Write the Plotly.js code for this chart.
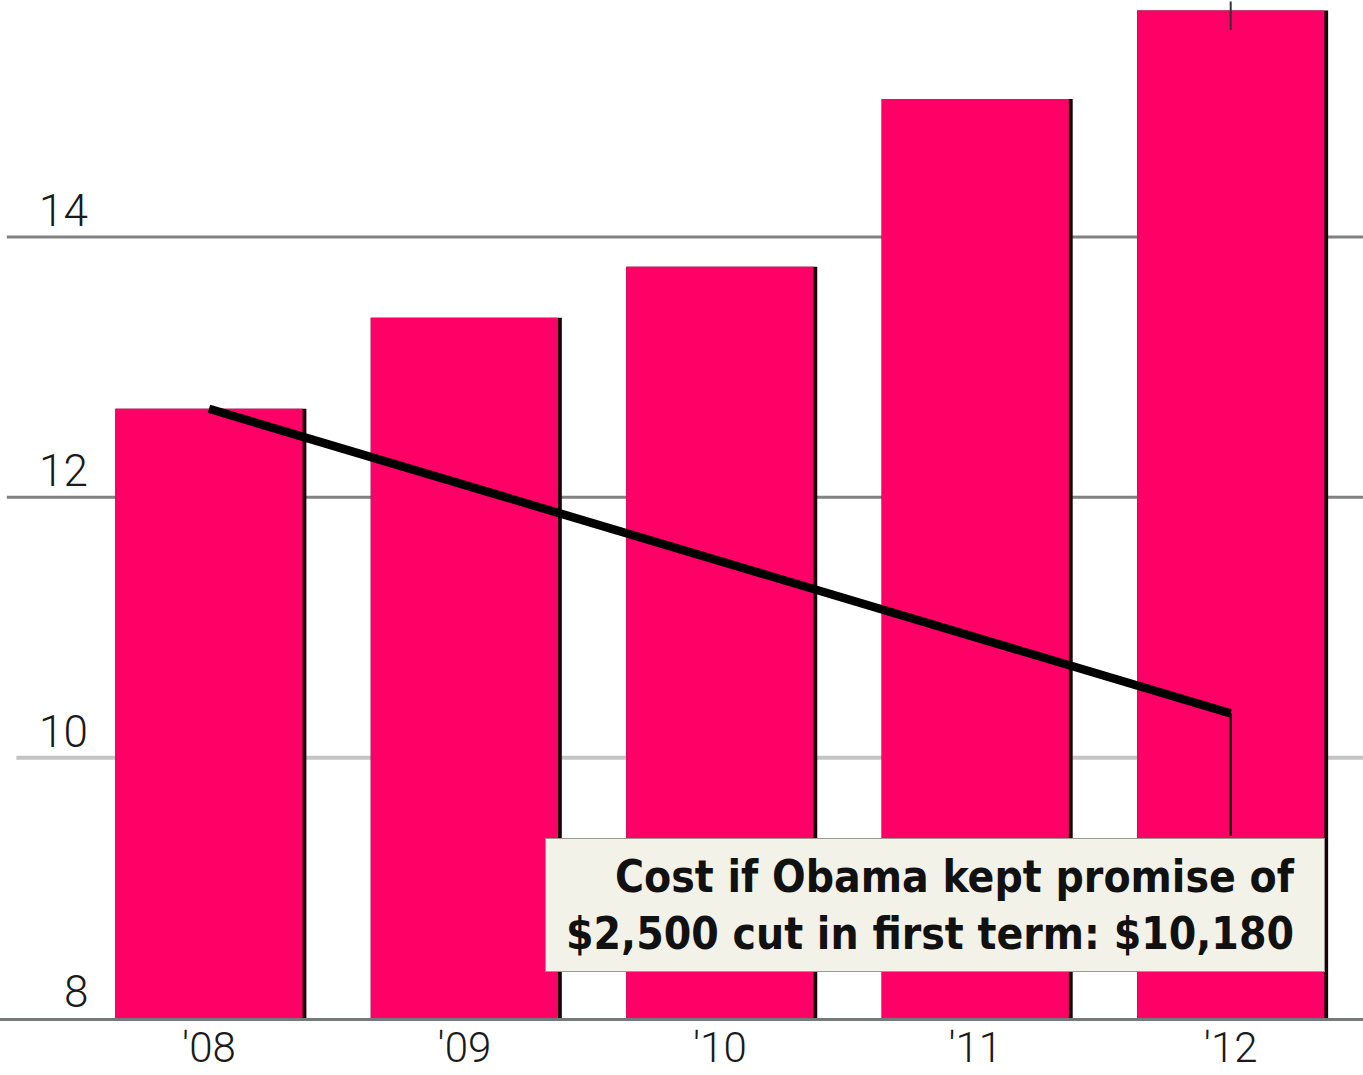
<!DOCTYPE html>
<html>
<head>
<meta charset="utf-8">
<script src="https://cdn.plot.ly/plotly-3.0.1.min.js"></script>
<style>html,body{margin:0;padding:0;background:#fff;}#chart{width:1363px;height:1075px;}</style>
</head>
<body>
<div id="chart"></div>
<script>
// ---- data ----
const years = ["'08", "'09", "'10", "'11", "'12"];
const costs = [12.68, 13.38, 13.77, 15.06, 15.74];          // thousand $
const promiseYears = ["'08", "'12"];
const promiseCosts = [12.68, 10.34];
const yTickVals = [8, 10, 12, 14];
const yTickText = ["8", "10", "12", "14"];
const gridVals = [10, 12, 14];
const noteText = "Cost if Obama kept promise of<br>$2,500 cut in first term: $10,180";

// ---- styles ----
const PINK = '#ff0066';
const barW = 0.733;
const edgeW = 0.748;

const traces = [
  { type: 'bar', x: years, y: costs, width: years.map(() => edgeW),
    offset: years.map(() => -barW / 2), marker: { color: '#1a0008' },
    hoverinfo: 'skip', showlegend: false },
  { type: 'bar', x: years, y: costs, width: years.map(() => barW),
    offset: years.map(() => -barW / 2), marker: { color: PINK },
    showlegend: false },
  { type: 'scatter', mode: 'lines', x: promiseYears, y: promiseCosts,
    line: { color: '#000', width: 8.5 }, showlegend: false }
];

const shapes = gridVals.map(v => ({
  type: 'line', xref: 'paper', yref: 'y', x0: v === 10 ? 0.012 : 0.005, x1: 1, y0: v, y1: v,
  layer: 'below',
  line: { color: v === 10 ? '#c4c4c4' : '#828282', width: v === 10 ? 4 : 3 }
}));

const tickFont = { family: 'Roboto, sans-serif', size: 44, color: '#1a1a1a', weight: 300 };
const xTickFont = { family: 'Roboto, sans-serif', size: 42, color: '#1a1a1a', weight: 300 };

const annotations = yTickVals.map((v, i) => ({
  xref: 'paper', yref: 'y', x: 90 / 1363, y: v, xanchor: 'right', yanchor: 'bottom',
  text: yTickText[i], showarrow: false, font: tickFont, yshift: -2
}));

// pointer from note box up to the promise line end
annotations.push({
  xref: 'x', yref: 'y', x: promiseYears[1], y: promiseCosts[1],
  axref: 'pixel', ayref: 'pixel', ax: 0, ay: 124, text: '',
  showarrow: true, arrowhead: 0, arrowwidth: 2.5, arrowcolor: '#111'
});
// small tick above the last bar
annotations.push({
  xref: 'x', yref: 'y', x: years[4], y: costs[4] - 0.15,
  axref: 'pixel', ayref: 'pixel', ax: 0, ay: -34, text: '',
  showarrow: true, arrowhead: 0, arrowwidth: 2, arrowcolor: '#333'
});
// note box
annotations.push({
  xref: 'paper', yref: 'paper', x: 545 / 1363, y: (1018 - 972) / 1018,
  xanchor: 'left', yanchor: 'bottom', text: ' ', showarrow: false,
  width: 778, height: 132, borderpad: 0,
  bgcolor: '#f3f2e9', bordercolor: '#9a9a90', borderwidth: 1
});
// note text
annotations.push({
  xref: 'paper', yref: 'paper', x: 1297 / 1363, y: (1018 - 905) / 1018,
  xanchor: 'right', yanchor: 'middle', align: 'right',
  text: noteText, showarrow: false,
  font: { family: '"DejaVu Sans Condensed", "DejaVu Sans", sans-serif', size: 44, color: '#111', weight: 700 }
});

const layout = {
  width: 1363, height: 1075,
  margin: { l: 0, r: 0, t: 0, b: 57 },
  paper_bgcolor: '#fff', plot_bgcolor: '#fff',
  barmode: 'overlay',
  xaxis: {
    type: 'category', range: [-0.818, 4.518],
    showgrid: false, zeroline: false,
    showline: true, linecolor: '#737b7b', linewidth: 3,
    ticks: '', tickfont: xTickFont, ticklabelstandoff: -9
  },
  yaxis: {
    range: [8, 15.82], showgrid: false, zeroline: false, showticklabels: false,
    ticks: ''
  },
  shapes: shapes,
  annotations: annotations
};

Plotly.newPlot('chart', traces, layout, { displayModeBar: false, staticPlot: true });
</script>
</body>
</html>
